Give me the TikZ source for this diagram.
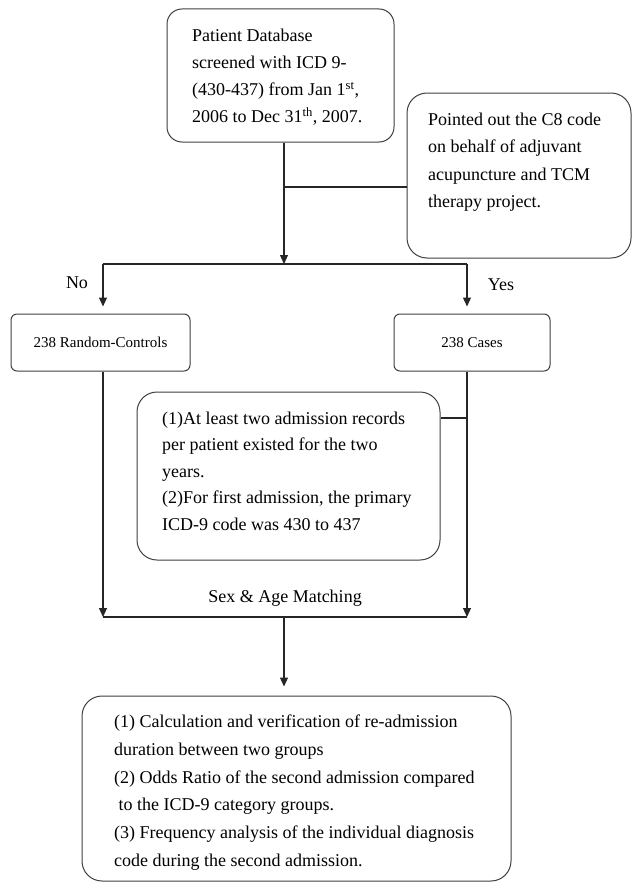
\documentclass[tikz,border=0pt]{standalone}
\usepackage{fontspec}
\setmainfont{Liberation Serif}
\usetikzlibrary{arrows.meta}
\begin{document}
\begin{tikzpicture}[x=1pt,y=-1pt,
  box/.style={draw=black!75, line width=1pt, rounded corners=#1, inner sep=0pt},
  box/.default=15pt,
  txt/.style={anchor=west, align=left, inner sep=0pt, font=\fontsize{18}{27}\selectfont},
  conn/.style={draw=black!85, line width=1.1pt},
  arr/.style={conn, -{Triangle[length=9pt,width=8pt]}},
  lbl/.style={inner sep=0pt, font=\fontsize{18}{22}\selectfont}]
\useasboundingbox[fill=white] (0,0) rectangle (632,883);

% boxes
\node[box=15pt, minimum width=227pt, minimum height=133pt] (db) at (280.5,75.5) {};
\node[box=20pt, minimum width=224pt, minimum height=165pt] (c8) at (519,175.5) {};
\node[box=6pt, minimum width=179pt, minimum height=57pt, font=\fontsize{15}{18}\selectfont] (ctrl) at (100.5,342.5) {238 Random-Controls};
\node[box=6pt, minimum width=156pt, minimum height=57pt, font=\fontsize{15}{18}\selectfont] (cases) at (472,342.5) {238 Cases};
\node[box=20pt, minimum width=303pt, minimum height=168pt] (crit) at (288.5,476) {};
\node[box=20pt, minimum width=429pt, minimum height=185pt] (res) at (296.5,788.5) {};

% texts
\node[txt] (dbt) at (192,77.5) {Patient Database\\screened with ICD 9-\\(430-437) from Jan 1\textsuperscript{st},\\2006 to Dec 31\textsuperscript{th}, 2007.};
\node[txt, font=\fontsize{18}{27.5}\selectfont] (c8t) at (428,162) {Pointed out the C8 code\\on behalf of adjuvant\\acupuncture and TCM\\therapy project.};
\node[lbl] (no) at (77,283) {No};
\node[lbl] (yes) at (501,285) {Yes};
\node[txt, font=\fontsize{18}{26.5}\selectfont] (critt) at (162,471) {(1)At least two admission records\\per patient existed for the two\\years.\\(2)For first admission, the primary\\ICD-9 code was 430 to 437};
\node[lbl] (match) at (285,598) {Sex \& Age Matching};
\node[txt, font=\fontsize{18}{27.8}\selectfont] (rest) at (114,792.5) {(1) Calculation and verification of re-admission\\duration between two groups\\(2) Odds Ratio of the second admission compared\\\hspace*{4.5pt}to the ICD-9 category groups.\\(3) Frequency analysis of the individual diagnosis\\code during the second admission.};

% junctions
\coordinate (j1) at (284,187);
\coordinate (j2) at (284,264);
\coordinate (lb) at (103,264);
\coordinate (rb) at (467,264);
\coordinate (lm) at (103,617);
\coordinate (rm) at (467,617);
\coordinate (j3) at (284,617);

% connectors
\draw[conn] (db.south -| j1) -- (j1) -- (j1 -| c8.west);
\draw[arr] (j1) -- (j2);
\draw[conn] (lb) -- (rb);
\draw[arr, shorten >=7pt] (lb) -- (lb |- ctrl.north);
\draw[arr, shorten >=7pt] (rb) -- (rb |- cases.north);
\draw[arr] (lb |- ctrl.south) -- (lm);
\draw[arr] (rb |- cases.south) -- (rm);
\draw[conn] (lm) -- (rm);
\draw[conn] (crit.east |- 0,418) -- (rb |- 0,418);
\draw[arr, shorten >=9pt] (j3) -- (j3 |- res.north);
\end{tikzpicture}
\end{document}
